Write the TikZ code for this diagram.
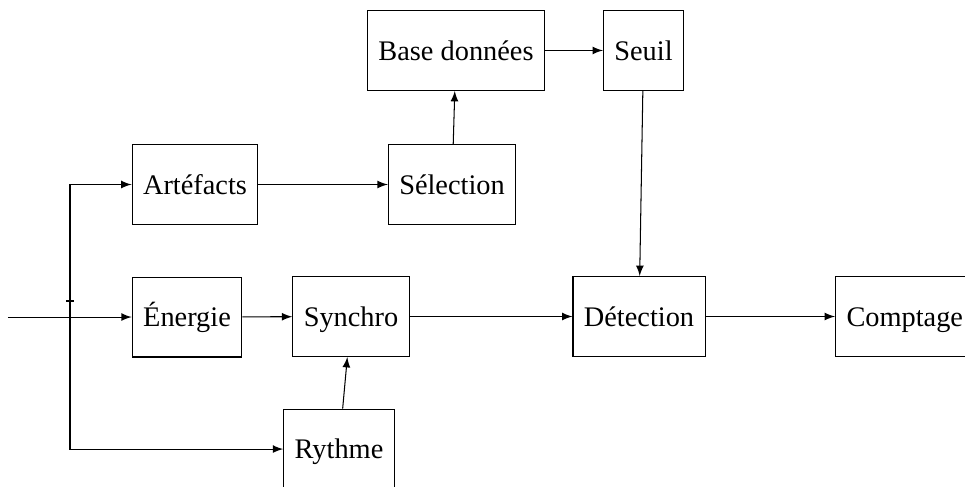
\documentclass[tikz,border=0pt]{standalone}
\usepackage{fontspec}
\setmainfont{Liberation Serif}
\usepackage{tikz}
\usetikzlibrary{calc}

\begin{document}
\begin{tikzpicture}[>=latex, font=\fontsize{10.9}{13}\selectfont, bloc/.style={draw, minimum height=1.08cm, inner xsep=4.2pt, text height=1.85ex, text depth=.25ex}]
\useasboundingbox (0,0) rectangle (13.04,-6.568);
\node [bloc] (artefacts) at (2.635,-2.493) {Artéfacts};
\node [bloc] (selection) at (6.108,-2.493) {Sélection};
\node [bloc] (base) at (6.162,-0.682) {Base données};
\node [bloc] (seuil) at (8.696,-0.682) {Seuil};
\node [bloc] (energie) at (2.527,-4.284) {Énergie};
\node [bloc] (synchro) at (4.743,-4.277) {Synchro};
\node [bloc] (detection) at (8.635,-4.277) {Détection};
\node [bloc, anchor=west] (comptage) at (11.284,-4.277) {Comptage};
\node [bloc] (rythme) at (4.581,-6.068) {Rythme};
\coordinate (entree) at (0.108,-4.284);
\coordinate (split) at (0.946,-4.284);
\draw [->] (entree) -- (energie);
\draw [->] (split) |- (artefacts);
\draw [->] (split) |- (rythme);
\draw [semithick] ($(split)+(-0.05,0.22)$) -- ++(0.1,0);
\draw [->] (artefacts) -- (selection);
\draw [->] (selection) -- (base);
\draw [->] (base) -- (seuil);
\draw [->] (seuil) -- (detection);
\draw [->] (energie) -- (synchro);
\draw [->] (rythme) -- (synchro);
\draw [->] (synchro) -- (detection);
\draw [->] (detection) -- (comptage);
\end{tikzpicture}
\end{document}
